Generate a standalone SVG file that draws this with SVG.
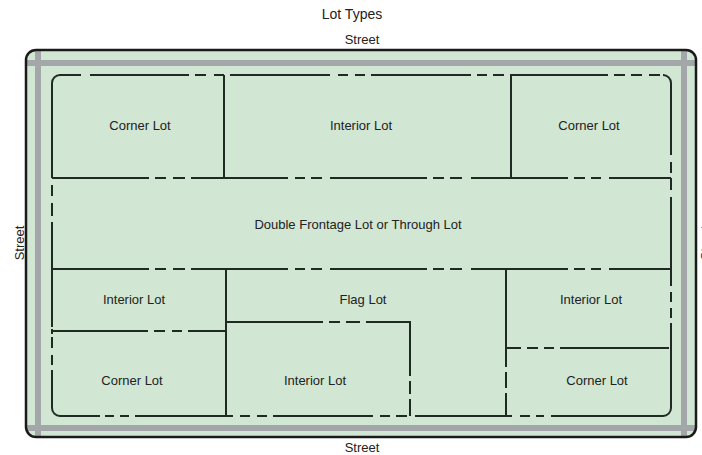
<svg xmlns="http://www.w3.org/2000/svg" width="702" height="455" viewBox="0 0 702 455">
  <style>
    .lbl { font-family: "Liberation Sans", Arial, sans-serif; font-size: 13px; fill: #222; text-anchor: middle; }
    .title { font-family: "Liberation Sans", Arial, sans-serif; font-size: 14px; fill: #222; text-anchor: middle; }
    .line { fill: none; stroke: #1f2a22; stroke-width: 2; stroke-linecap: butt; }
    .band { fill: #a4a7a9; }
  </style>
  <defs>
    <clipPath id="blockClip">
      <rect x="26" y="50" width="670" height="387" rx="10" ry="10"/>
    </clipPath>
  </defs>

  <rect width="702" height="455" fill="#ffffff"/>

  <!-- title and street names -->
  <text class="title" x="352" y="19">Lot Types</text>
  <text class="lbl" x="362" y="44">Street</text>
  <text class="lbl" x="362" y="452">Street</text>
  <text class="lbl" transform="translate(23.5,243) rotate(-90)">Street</text>
  <text class="lbl" transform="translate(709.5,243) rotate(-90)">Street</text>

  <!-- block with surrounding street bands -->
  <g id="block">
    <rect x="26" y="50" width="670" height="387" rx="10" ry="10" fill="#d1e6d3"/>
    <g clip-path="url(#blockClip)">
      <rect class="band" x="26" y="60" width="670" height="6"/>
      <rect class="band" x="26" y="425" width="670" height="6"/>
      <rect class="band" x="35" y="50" width="6" height="387"/>
      <rect class="band" x="681" y="50" width="6" height="387"/>
    </g>
    <rect x="26" y="50" width="670" height="387" rx="10" ry="10" fill="none" stroke="#1a1a1a" stroke-width="2.5"/>
  </g>

  <!-- lot lines: solid runs broken by short dashes -->
  <g id="lot-lines" class="line">
    <!-- rounded corners of the block boundary -->
    <path d="M52,83 A8,8 0 0 1 60,75 M663,75 A8,8 0 0 1 671,83 M671,408 A8,8 0 0 1 663,416 M60,416 A8,8 0 0 1 52,408"/>
    <!-- top boundary -->
    <path d="M60,75H81 M90,75H189 M195,75H206 M214,75H224 M230,75H330 M338,75H348 M355,75H365 M371,75H471 M477,75H487 M493,75H504 M510,75H608 M614,75H625 M631,75H642 M649,75H660"/>
    <!-- bottom boundary -->
    <path d="M60,416H100 M105,416H114 M120,416H129 M135,416H233 M240,416H250 M257,416H267 M273,416H373 M380,416H390 M396,416H407 M415,416H512 M520,416H530 M536,416H544 M551,416H663"/>
    <!-- left boundary -->
    <path d="M52,83V178 M52,185V196 M52,203V216 M52,222V327 M52,329V334 M52,337V348 M52,355V365 M52,370V408"/>
    <!-- right boundary -->
    <path d="M671,83V155 M671,162V173 M671,178V190 M671,197V286 M671,292V302 M671,308V318 M671,323V408"/>
    <!-- through-lot boundaries -->
    <path d="M52,178H149 M155,178H166 M173,178H185 M191,178H288 M295,178H305 M311,178H322 M330,178H427 M433,178H444 M450,178H462 M471,178H568 M574,178H585 M591,178H601 M609,178H671"/>
    <path d="M52,269H149 M155,269H166 M173,269H185 M191,269H288 M295,269H305 M311,269H322 M330,269H427 M433,269H444 M450,269H462 M471,269H568 M574,269H585 M591,269H601 M609,269H671"/>
    <!-- top row side lines -->
    <path d="M224,75V178 M511,75V178"/>
    <!-- lower left lots -->
    <path d="M52,331H148 M154,331H165 M172,331H182 M188,331H226"/>
    <path d="M226,269V416"/>
    <!-- flag lot -->
    <path d="M226,322H323 M329,322H340 M346,322H360 M366,322H411"/>
    <path d="M410,321V376 M410,381V394 M410,399V416"/>
    <!-- lower right lots -->
    <path d="M506,269V367 M506,372V388 M506,393V416"/>
    <path d="M506,348H521 M527,348H538 M544,348H554 M560,348H669"/>
  </g>

  <!-- lot names -->
  <g id="lot-corner-nw"><text class="lbl" x="140" y="130">Corner Lot</text></g>
  <g id="lot-interior-n"><text class="lbl" x="361" y="130">Interior Lot</text></g>
  <g id="lot-corner-ne"><text class="lbl" x="589" y="130">Corner Lot</text></g>
  <g id="lot-through"><text class="lbl" x="358" y="229">Double Frontage Lot or Through Lot</text></g>
  <g id="lot-interior-w"><text class="lbl" x="134" y="304">Interior Lot</text></g>
  <g id="lot-flag"><text class="lbl" x="363" y="304">Flag Lot</text></g>
  <g id="lot-interior-e"><text class="lbl" x="591" y="304">Interior Lot</text></g>
  <g id="lot-corner-sw"><text class="lbl" x="132" y="385">Corner Lot</text></g>
  <g id="lot-interior-s"><text class="lbl" x="315" y="385">Interior Lot</text></g>
  <g id="lot-corner-se"><text class="lbl" x="597" y="385">Corner Lot</text></g>
</svg>
